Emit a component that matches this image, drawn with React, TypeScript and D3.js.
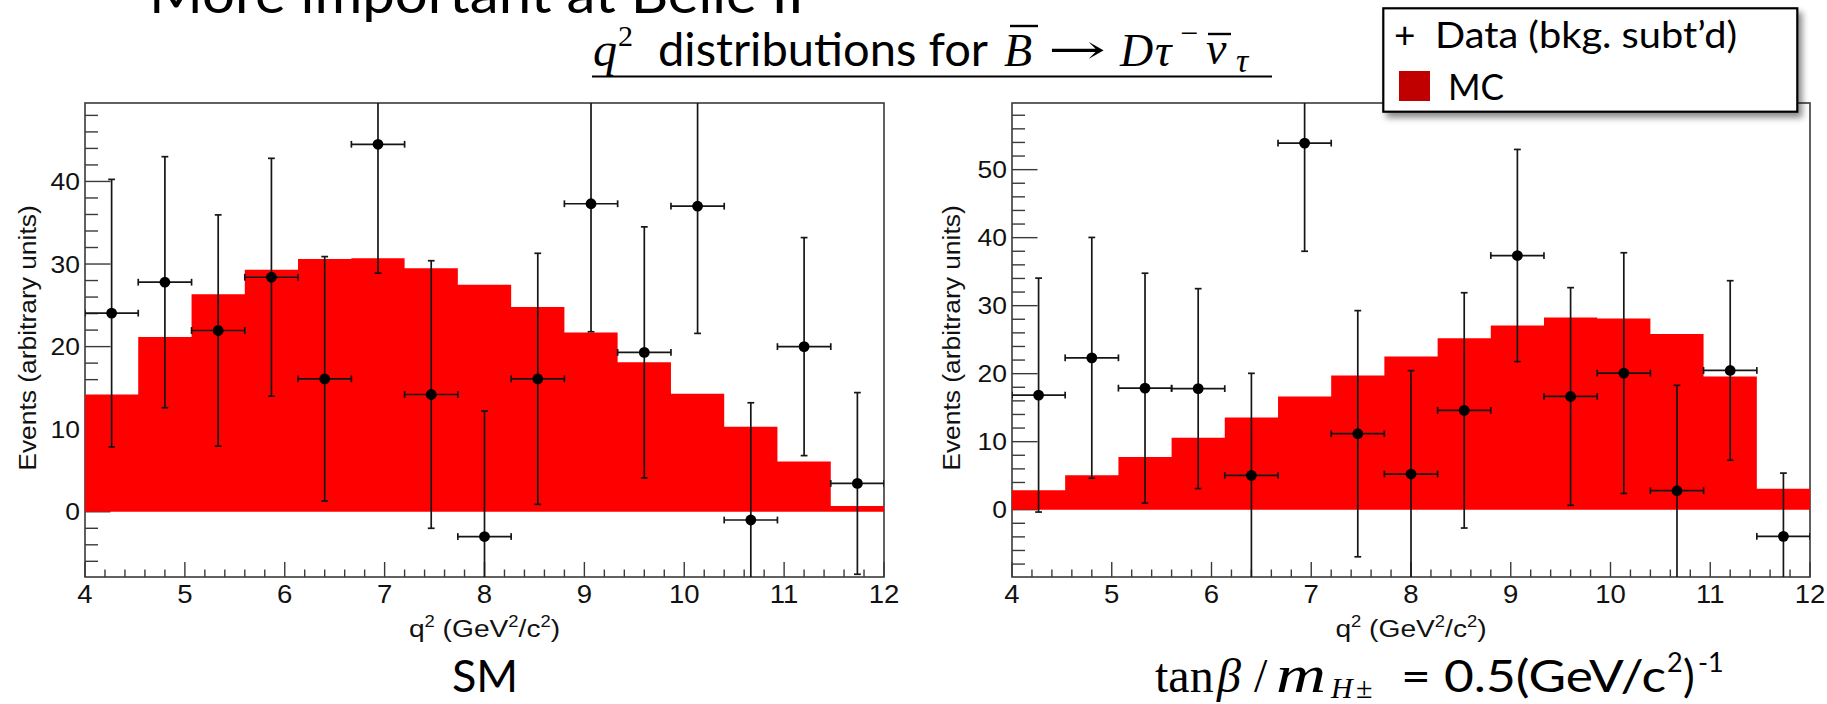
import React from 'react';
import * as d3 from 'd3';

// ---- data ----
const binEdges = [4, 4.533, 5.067, 5.6, 6.133, 6.667, 7.2, 7.733, 8.267, 8.8, 9.333, 9.867, 10.4, 10.933, 11.467, 12];
const xTickLabels = ['4', '5', '6', '7', '8', '9', '10', '11', '12'];

const smMC = [14.2, 21.15, 26.35, 29.3, 30.6, 30.7, 29.5, 27.5, 24.8, 21.7, 18.1, 14.3, 10.3, 6.1, 0.7];
const smData = [24.05, 27.8, 21.95, 28.4, 16.1, 44.5, 14.2, -3.0, 16.1, 37.3, 19.3, 37.0, -1.0, 20.0, 3.43];
const smErr = [16.2, 15.2, 14.0, 14.4, 14.8, 15.6, 16.2, 15.2, 15.2, 15.5, 15.2, 15.4, 14.2, 13.2, 11.0];
const smYLabels = [0, 10, 20, 30, 40];

const hMC = [2.84, 5.05, 7.74, 10.58, 13.56, 16.65, 19.73, 22.52, 25.2, 27.1, 28.25, 28.1, 25.85, 19.6, 3.08];
const hData = [16.85, 22.33, 17.87, 17.8, 5.05, 53.9, 11.17, 5.24, 14.6, 37.37, 16.65, 20.08, 2.79, 20.47, -3.92];
const hErr = [17.2, 17.7, 16.9, 14.7, 15.0, 15.9, 18.1, 15.2, 17.3, 15.6, 16.0, 17.7, 15.5, 13.2, 9.3];
const hYLabels = [0, 10, 20, 30, 40, 50];

const ROOT_FONT = 'Liberation Sans, Arial, Helvetica, sans-serif';
const SLIDE_FONT = 'Lato, Open Sans, sans-serif';
const MATH_FONT = 'Liberation Serif, DejaVu Serif, serif';
const FRAME = '#3a3a3a';
const INK = '#161616';

type PanelProps = {
  id: string;
  x0: number; x1: number; top: number; bottom: number;
  yDomain: [number, number];
  mc: number[]; data: number[]; err: number[];
  yLabels: number[];
  yTitleX: number;
};

function Panel({ id, x0, x1, top, bottom, yDomain, mc, data, err, yLabels, yTitleX }: PanelProps) {
  const x = d3.scaleLinear().domain([4, 12]).range([x0, x1]);
  const y = d3.scaleLinear().domain(yDomain).range([bottom, top]);
  const [lo, hi] = yDomain;

  const xMinor = d3.range(4, 12.0001, 0.2);
  const xMajor = xTickLabels.map(Number);
  const yMinor = d3.range(Math.ceil(lo / 2) * 2, hi, 2);

  const pts: [number, number][] = mc.map((v, i) => [binEdges[i], v] as [number, number]);
  pts.push([binEdges[binEdges.length - 1], mc[mc.length - 1]]);
  const area = d3.area<[number, number]>()
    .x(d => x(d[0]))
    .y0(y(0))
    .y1(d => y(d[1]))
    .curve(d3.curveStepAfter);

  const majorLenX = 15, minorLenX = 7.5, majorLenY = 25.5, minorLenY = 13;
  const cap = 3.4;

  return (
    <g>
      <defs>
        <clipPath id={`clip-${id}`}>
          <rect x={x0} y={top} width={x1 - x0} height={bottom - top} />
        </clipPath>
      </defs>
      {/* frame */}
      <rect x={x0} y={top} width={x1 - x0} height={bottom - top} fill="white" stroke={FRAME} strokeWidth={1.6} />
      {/* x ticks */}
      {xMinor.map((t, i) => {
        const isMajor = Math.abs(t - Math.round(t)) < 1e-6;
        return (
          <line key={`xm${i}`} x1={x(t)} x2={x(t)} y1={bottom} y2={bottom - (isMajor ? majorLenX : minorLenX)}
            stroke={FRAME} strokeWidth={1.4} />
        );
      })}
      {/* y ticks */}
      {yMinor.map((t, i) => {
        const isMajor = Math.abs(t / 10 - Math.round(t / 10)) < 1e-6;
        return (
          <line key={`ym${i}`} x1={x0} x2={x0 + (isMajor ? majorLenY : minorLenY)} y1={y(t)} y2={y(t)}
            stroke={FRAME} strokeWidth={1.4} />
        );
      })}
      {/* x labels */}
      {xMajor.map((t, i) => (
        <g key={`xl${i}`} transform={`translate(${x(t)},603) scale(1.08,1)`}>
          <text x={0} y={0} textAnchor="middle" fontFamily={ROOT_FONT} fontSize={25.5} fill="#111">{xTickLabels[i]}</text>
        </g>
      ))}
      {/* y labels */}
      {yLabels.map((t, i) => (
        <g key={`yl${i}`} transform={`translate(${x0 - 5},${y(t) + 8.5}) scale(1.15,1)`}>
          <text x={0} y={0} textAnchor="end" fontFamily={ROOT_FONT} fontSize={23} fill="#111">{t}</text>
        </g>
      ))}
      {/* axis titles */}
      <g transform={`translate(${(x0 + x1) / 2},637) scale(1.15,1)`}>
        <text x={0} y={0} textAnchor="middle" fontFamily={ROOT_FONT} fontSize={24.5} fill="#111">
          q<tspan dy={-10} fontSize={16}>2</tspan><tspan dy={10}> (GeV</tspan><tspan dy={-10} fontSize={16}>2</tspan><tspan dy={10}>/c</tspan><tspan dy={-10} fontSize={16}>2</tspan><tspan dy={10}>)</tspan>
        </text>
      </g>
      <g transform={`translate(${yTitleX},${(top + bottom) / 2 - 2}) rotate(-90) scale(1.1,1)`}>
        <text x={0} y={0} textAnchor="middle" fontFamily={ROOT_FONT} fontSize={24} fill="#111">Events (arbitrary units)</text>
      </g>
      {/* MC histogram */}
      <path d={area(pts) || ''} fill="#ff0000" />
      {/* data points */}
      <g clipPath={`url(#clip-${id})`} stroke={INK} strokeWidth={1.7}>
        {data.map((v, i) => {
          const lx = binEdges[i], hx = binEdges[i + 1];
          const cx = x((lx + hx) / 2);
          const cy = y(v);
          const up = v + err[i], dn = v - err[i];
          return (
            <g key={`p${i}`}>
              <line x1={cx} x2={cx} y1={y(Math.max(dn, lo - 1))} y2={y(Math.min(up, hi + 1))} />
              {up < hi && <line x1={cx - cap} x2={cx + cap} y1={y(up)} y2={y(up)} />}
              {dn > lo && <line x1={cx - cap} x2={cx + cap} y1={y(dn)} y2={y(dn)} />}
              <line x1={x(lx)} x2={x(hx)} y1={cy} y2={cy} />
              <line x1={x(lx)} x2={x(lx)} y1={cy - cap} y2={cy + cap} />
              <line x1={x(hx)} x2={x(hx)} y1={cy - cap} y2={cy + cap} />
              <circle cx={cx} cy={cy} r={5.4} fill="#000" stroke="none" />
            </g>
          );
        })}
      </g>
    </g>
  );
}

export default function App() {
  return (
    <svg width={1827} height={704} viewBox="0 0 1827 704"
      style={{ position: 'absolute', left: 0, top: 0, background: 'white' }}>
      <defs>
        <filter id="legshadow" x="-5%" y="-10%" width="115%" height="140%">
          <feDropShadow dx={4} dy={5} stdDeviation={3} floodColor="#000" floodOpacity={0.45} />
        </filter>
      </defs>
      <rect x={0} y={0} width={1827} height={704} fill="white" />

      {/* slide title, cut at top */}
      <text x={149} y={13} fontFamily={SLIDE_FONT} fontSize={55} fill="#000" textLength={655} lengthAdjust="spacingAndGlyphs">More important at Belle II</text>

      {/* subtitle */}
      <g fill="#000">
        <text x={593} y={66} fontFamily={MATH_FONT} fontStyle="italic" fontSize={48}>q</text>
        <text x={618} y={46} fontFamily={MATH_FONT} fontSize={30}>2</text>
        <text x={658} y={66} fontFamily={SLIDE_FONT} fontSize={46} textLength={330} lengthAdjust="spacingAndGlyphs">distributions for</text>
        <text x={1004} y={66} fontFamily={MATH_FONT} fontStyle="italic" fontSize={46}>B</text>
        <line x1={1010} x2={1038} y1={26} y2={26} stroke="#000" strokeWidth={2.4} />
        <text x={1048} y={63} fontFamily="DejaVu Serif, serif" fontSize={40} textLength={58} lengthAdjust="spacingAndGlyphs">→</text>
        <text x={1120} y={66} fontFamily={MATH_FONT} fontStyle="italic" fontSize={46}>D</text>
        <text x={1155} y={66} fontFamily={MATH_FONT} fontStyle="italic" fontSize={46}>τ</text>
        <text x={1180} y={44} fontFamily={MATH_FONT} fontSize={32}>−</text>
        <text x={1206} y={64} fontFamily={MATH_FONT} fontStyle="italic" fontSize={46}>ν</text>
        <line x1={1208} x2={1231} y1={34} y2={34} stroke="#000" strokeWidth={2.4} />
        <text x={1236} y={72} fontFamily={MATH_FONT} fontStyle="italic" fontSize={34}>τ</text>
        <line x1={592} x2={1272} y1={76.5} y2={76.5} stroke="#000" strokeWidth={2} />
      </g>

      <Panel id="sm" x0={85} x1={884} top={103} bottom={577} yDomain={[-7.9, 49.5]}
        mc={smMC} data={smData} err={smErr} yLabels={smYLabels} yTitleX={36} />
      <Panel id="h" x0={1012} x1={1810} top={103} bottom={577} yDomain={[-9.9, 59.8]}
        mc={hMC} data={hData} err={hErr} yLabels={hYLabels} yTitleX={960} />

      {/* legend */}
      <rect x={1383.3} y={8.3} width={414} height={103.4} fill="white" stroke="#000" strokeWidth={2.2} filter="url(#legshadow)" />
      <text x={1394} y={48} fontFamily={SLIDE_FONT} fontSize={37} fill="#000">+</text>
      <text x={1435} y={48} fontFamily={SLIDE_FONT} fontSize={37} fill="#000" textLength={302} lengthAdjust="spacingAndGlyphs">Data (bkg. subt’d)</text>
      <rect x={1399} y={71} width={31} height={30} fill="#c00000" />
      <text x={1448} y={100} fontFamily={SLIDE_FONT} fontSize={37} fill="#000" textLength={56} lengthAdjust="spacingAndGlyphs">MC</text>

      {/* panel captions */}
      <text x={485} y={692} textAnchor="middle" fontFamily={SLIDE_FONT} fontSize={45} fill="#000">SM</text>
      <g fill="#000">
        <text x={1155} y={692} fontFamily={MATH_FONT} fontSize={48}>tan</text>
        <text x={1217} y={692} fontFamily={MATH_FONT} fontStyle="italic" fontSize={48}>β</text>
        <text x={1254} y={692} fontFamily={MATH_FONT} fontSize={48}>/</text>
        <text x={1276} y={692} fontFamily={MATH_FONT} fontStyle="italic" fontSize={52} textLength={50} lengthAdjust="spacingAndGlyphs">m</text>
        <text x={1331} y={698} fontFamily={MATH_FONT} fontStyle="italic" fontSize={30}>H</text>
        <text x={1356} y={698} fontFamily={MATH_FONT} fontSize={30}>±</text>
        <text x={1401} y={692} fontFamily={SLIDE_FONT} fontSize={44} textLength={265} lengthAdjust="spacingAndGlyphs">= 0.5(GeV/c</text>
        <text x={1667} y={672} fontFamily={SLIDE_FONT} fontSize={27}>2</text>
        <text x={1683} y={692} fontFamily={SLIDE_FONT} fontSize={44}>)</text>
        <text x={1698} y={672} fontFamily={SLIDE_FONT} fontSize={27}>-1</text>
      </g>
    </svg>
  );
}
